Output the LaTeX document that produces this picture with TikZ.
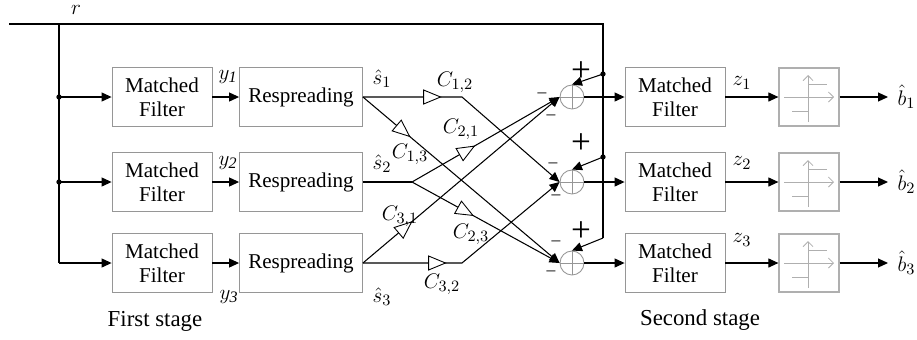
\documentclass[tikz,border=0pt]{standalone}
\usepackage{fontspec}
\setmainfont{Liberation Serif}
\usetikzlibrary{arrows.meta,shapes.geometric}
\definecolor{boxgray}{RGB}{150,150,150}
\definecolor{thgray}{RGB}{175,175,175}

\begin{document}
\begin{tikzpicture}[x=0.02cm, y=-0.02cm, line width=0.6pt,
  >={Triangle[length=0.2cm,width=0.18cm]},
  box/.style={draw=boxgray, line width=0.5pt, minimum width=2cm, minimum height=1.18cm,
    align=center, inner sep=0pt, font=\fontsize{12}{13.5}\selectfont},
  rsbox/.style={box, minimum width=2.46cm},
  thbox/.style={draw=thgray, line width=0.7pt, minimum width=1.2cm, minimum height=1.16cm},
  summer/.style={circle, draw=boxgray, line width=0.5pt, minimum size=0.48cm, inner sep=0pt,
    path picture={\draw[boxgray, line width=0.4pt]
      (path picture bounding box.north) -- (path picture bounding box.south)
      (path picture bounding box.west) -- (path picture bounding box.east);}},
  amp/.style={isosceles triangle, isosceles triangle apex angle=45, draw, fill=white,
    minimum size=0.28cm, inner sep=0pt, sloped, allow upside down, line width=0.5pt},
  lab/.style={font=\fontsize{13}{14}\selectfont, inner sep=0pt},
  mns/.style={font=\fontsize{10}{10}\selectfont, inner sep=0pt},
  pls/.style={font=\fontsize{20}{20}\selectfont, inner sep=0pt}]
  \useasboundingbox (0,0) rectangle (917,339);

  \foreach \i/\y in {1/97, 2/182, 3/263}{
    \node[box] (mf\i) at (162,\y) {Matched\\Filter};
    \node[rsbox] (rs\i) at (301,\y) {Respreading};
    \node[summer] (s\i) at (572,\y) {};
    \node[box] (mo\i) at (675,\y) {Matched\\Filter};
    \node[thbox] (th\i) at (809,\y) {};
    \coordinate (b\i) at (888,\y);
    \draw[->] (mf\i) -- (rs\i);
    \draw[->] (s\i) -- (mo\i);
    \draw[->] (mo\i) -- (th\i);
    \draw[->] (th\i) -- (b\i);
    \node[lab, anchor=west] (bh\i) at (897,\y) {$\hat{b}_\i$};
    % hard limiter
    \begin{scope}[shift={(th\i.center)}, thgray, line width=0.5pt]
      \draw[-{Straight Barb[length=0.1cm,width=0.2cm]}] (-25,0) -- (25,0);
      \draw[-{Straight Barb[length=0.1cm,width=0.2cm]}] (-1,25) -- (-1,-22);
      \draw (-1,-13) -- (18,-13);
      \draw (-17,14) -- (-1,14);
    \end{scope}
  }

  % input line and feedback of r
  \coordinate (rin) at (9,24);
  \coordinate (rl) at (59,24);
  \coordinate (rr) at (603,24);
  \coordinate (rb) at (603,238);
  \coordinate (lb) at (59,263);
  \coordinate (dl1) at (59,97);
  \coordinate (dl2) at (59,182);
  \coordinate (dr1) at (603,74);
  \coordinate (dr2) at (603,157);
  \draw (rin) -- (rr) -- (rb);
  \draw (rl) -- (lb);
  \draw[->] (lb) -- (mf3.west);
  \draw[->] (dl1) -- (mf1.west);
  \draw[->] (dl2) -- (mf2.west);
  \draw[->] (dr1) -- (s1.north);
  \draw[->] (dr2) -- (s2.north);
  \draw[->] (rb) -- (s3.north);
  \foreach \d in {dl1,dl2,dr1,dr2}{
    \fill (\d) circle (1.5pt);
  }

  % cross coupling
  \coordinate (k12) at (462,97);
  \coordinate (k2) at (412,182);
  \coordinate (k32) at (462,263);
  \draw[->] (rs1.east) -- node[amp, pos=0.66]{} (k12) -- (s2.west);
  \draw[->] (rs1.east) -- node[amp, pos=0.19]{} (s3.west);
  \draw (rs2.east) -- (k2);
  \draw[->] (k2) -- node[amp, pos=0.35]{} (s1.west);
  \draw[->] (k2) -- node[amp, pos=0.34]{} (s3.west);
  \draw[->] (rs3.east) -- node[amp, pos=0.2]{} (s1.west);
  \draw[->] (rs3.east) -- node[amp, pos=0.71]{} (k32) -- (s2.west);

  % signs
  \node[mns] (m11) at (542,95) {–};
  \node[mns] (m12) at (551,117) {–};
  \node[mns] (m21) at (553,165) {–};
  \node[mns] (m22) at (556,197) {–};
  \node[mns] (m31) at (556,243) {–};
  \node[mns] (m32) at (551,273) {–};
  \node[pls] (p1) at (581,72) {+};
  \node[pls] (p2) at (581,144) {+};
  \node[pls] (p3) at (581,232) {+};

  % labels
  \node[lab] (lr) at (76,10) {$r$};
  \node[lab] (ly1) at (228,77) {$y_{\mathit{1}}$};
  \node[lab] (ly2) at (228,163) {$y_{\mathit{2}}$};
  \node[lab] (ly3) at (229,297) {$y_{\mathit{3}}$};
  \node[lab] (ls1) at (382,79) {$\hat{s}_1$};
  \node[lab] (ls2) at (382,164) {$\hat{s}_2$};
  \node[lab] (ls3) at (382,297) {$\hat{s}_3$};
  \node[lab] (lc12) at (455,82) {$C_{1,2}$};
  \node[lab] (lc13) at (410,154) {$C_{1,3}$};
  \node[lab] (lc21) at (461,129) {$C_{2,1}$};
  \node[lab] (lc23) at (471,234) {$C_{2,3}$};
  \node[lab] (lc31) at (400,216) {$C_{3,1}$};
  \node[lab] (lc32) at (442,284) {$C_{3,2}$};
  \node[lab] (lz1) at (742,83) {$z_1$};
  \node[lab] (lz2) at (742,163) {$z_2$};
  \node[lab] (lz3) at (742,240) {$z_3$};
  \node[lab] (st1) at (155,321) {First stage};
  \node[lab] (st2) at (700,320) {Second stage};
\end{tikzpicture}
\end{document}
